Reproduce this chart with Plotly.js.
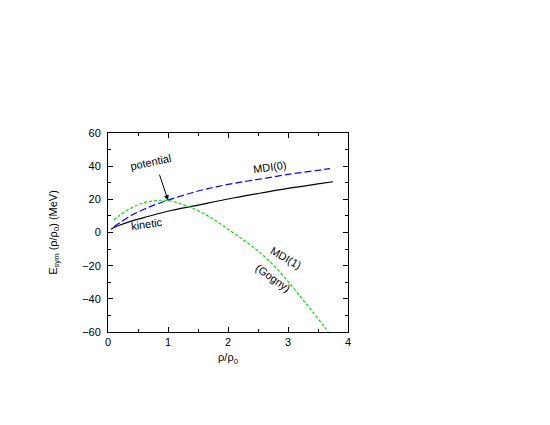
<!DOCTYPE html>
<html>
<head>
<meta charset="utf-8">
<script src="https://cdn.plot.ly/plotly-3.0.1.min.js"></script>
<style>
  body { margin: 0; background: #fff; }
  #plot { width: 550px; height: 425px; }
</style>
</head>
<body>
<div id="plot"></div>
<script>
// kinetic part
const kinRho = [0.05, 0.1, 0.2, 0.4, 0.6, 0.8, 1.0, 1.5, 2.0, 2.5, 3.0, 3.5, 3.75];
const kinE = [2, 3, 4.5, 7, 9, 11, 12.8, 16.5, 20.2, 23.5, 26.6, 29.3, 30.6];

// MDI(0) potential part
const mdi0Rho = [0.1, 0.2, 0.4, 0.6, 0.8, 1.0, 1.5, 2.0, 2.5, 3.0, 3.5, 3.7];
const mdi0E = [3.5, 6, 10.5, 14, 17, 19.5, 25, 29, 32, 35, 37.5, 38.5];

// MDI(1) (Gogny) potential part
const mdi1Rho = [0.1, 0.2, 0.4, 0.6, 0.8, 1.0, 1.2, 1.4, 1.6, 1.8, 2.0, 2.2, 2.4, 2.6, 2.8, 3.0, 3.2, 3.4, 3.6, 3.67];
const mdi1E = [7.5, 10.5, 15, 18, 19.2, 19.3, 17.5, 14.8, 11.3, 7, 2, -3, -8.3, -14.3, -21.3, -29.5, -38.3, -47.3, -56.5, -60];

const font = { family: 'Liberation Sans, Arial, sans-serif', size: 11, color: '#000' };

const traces = [
  { x: kinRho, y: kinE, mode: 'lines', line: { color: '#000', width: 1.2, shape: 'spline' } },
  { x: mdi0Rho, y: mdi0E, mode: 'lines', line: { color: '#0000ff', width: 1.2, dash: '7px,3px', shape: 'spline' } },
  { x: mdi1Rho, y: mdi1E, mode: 'lines', line: { color: '#00e000', width: 1.2, dash: '3px,2px', shape: 'spline' } }
];

const axisCommon = {
  showgrid: false, zeroline: false, showline: true, linecolor: '#000', linewidth: 1,
  mirror: 'allticks', ticks: 'inside', ticklen: 5, tickcolor: '#000',
  tickfont: font
};

const layout = {
  width: 550, height: 425,
  margin: { l: 108, r: 202, t: 133, b: 93 },
  paper_bgcolor: '#fff', plot_bgcolor: '#fff',
  showlegend: false,
  font: font,
  xaxis: Object.assign({}, axisCommon, {
    range: [0, 4], dtick: 1,
    minor: { dtick: 0.5, ticklen: 3, ticks: 'inside', tickcolor: '#000' },
    title: { text: 'ρ/ρ<sub>0</sub>', font: font, standoff: 6 }
  }),
  yaxis: Object.assign({}, axisCommon, {
    range: [-60, 60], dtick: 20,
    ticklabelstandoff: 4,
    minor: { dtick: 10, ticklen: 3, ticks: 'inside', tickcolor: '#000' },
    title: { text: 'E<sub>sym</sub> (ρ/ρ<sub>0</sub>) (MeV)', font: font, standoff: 22 }
  }),
  annotations: [
    { x: 1.0, y: 19.5, xref: 'x', yref: 'y', ax: -9, ay: -27,
      text: '', showarrow: true, arrowhead: 2, arrowsize: 1, arrowwidth: 1, arrowcolor: '#000' },
    { x: 0.72, y: 42.5, text: 'potential', showarrow: false, textangle: -12, font: font },
    { x: 2.7, y: 39.5, text: 'MDI(0)', showarrow: false, textangle: -8, font: font },
    { x: 0.65, y: 5, text: 'kinetic', showarrow: false, textangle: -8, font: font },
    { x: 2.97, y: -15.5, text: 'MDI(1)', showarrow: false, textangle: 30, font: font },
    { x: 2.75, y: -27.5, text: '(Gogny)', showarrow: false, textangle: 35, font: font }
  ]
};

Plotly.newPlot('plot', traces, layout, { displayModeBar: false, staticPlot: true });
</script>
</body>
</html>
